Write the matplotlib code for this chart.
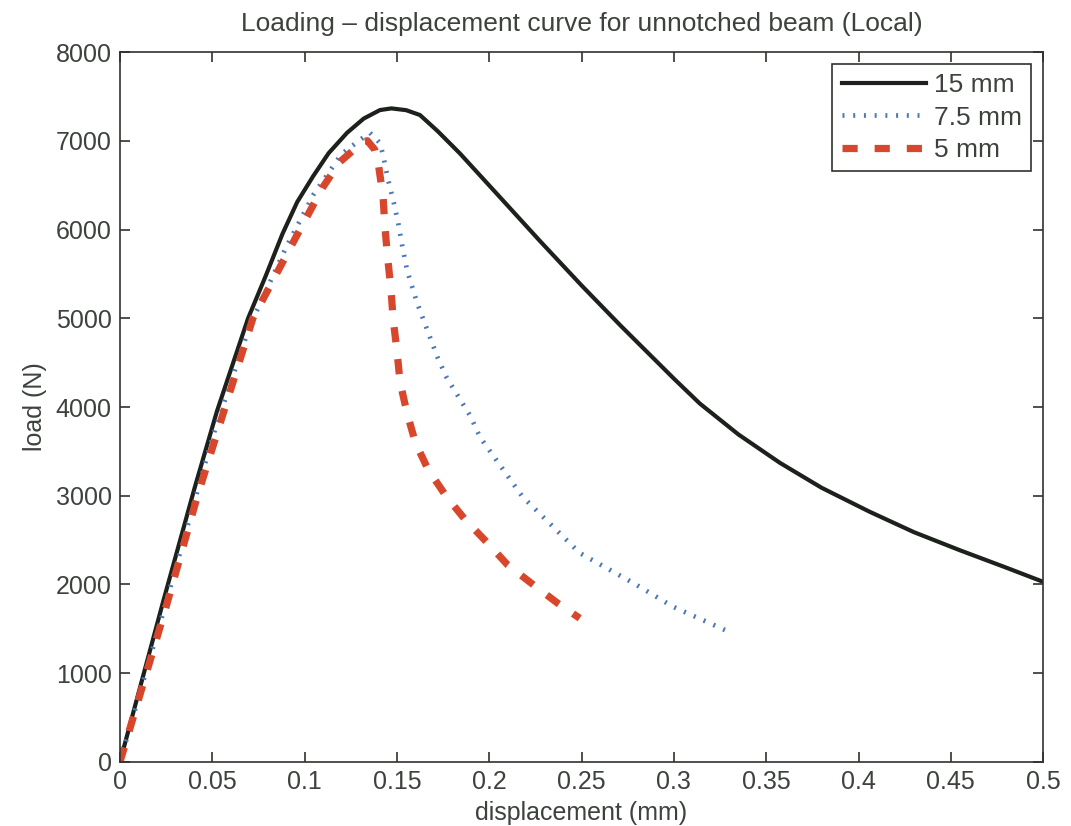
import matplotlib
matplotlib.use("Agg")
import matplotlib.pyplot as plt

# Дані
# 15 mm
x_15 = [0, 0.0233, 0.0406, 0.0525, 0.0694, 0.079, 0.088, 0.096, 0.1046, 0.113,
        0.123, 0.132, 0.1408, 0.147, 0.155, 0.1625, 0.172, 0.184, 0.195, 0.206,
        0.2275, 0.25, 0.271, 0.3, 0.314, 0.335, 0.3575, 0.38, 0.406, 0.43,
        0.455, 0.48, 0.5]
y_15 = [0, 1800, 3100, 3950, 5000, 5480, 5950, 6310, 6600, 6860,
        7090, 7250, 7346, 7365, 7345, 7290, 7110, 6860, 6610, 6360,
        5870, 5370, 4920, 4320, 4040, 3690, 3370, 3090, 2820, 2590,
        2385, 2190, 2030]

# 7.5 mm
x_75 = [0, 0.025, 0.05, 0.07, 0.09, 0.105, 0.12, 0.13, 0.1354, 0.1408, 0.1425,
        0.145, 0.148, 0.1506, 0.1528, 0.1555, 0.161, 0.172, 0.177, 0.19, 0.195,
        0.218, 0.249, 0.278, 0.2995, 0.33]
y_75 = [0, 1800, 3650, 4900, 5800, 6400, 6850, 7010, 7090, 6975, 6840,
        6580, 6330, 6085, 5825, 5540, 5170, 4560, 4330, 3890, 3660,
        2990, 2355, 2017, 1750, 1465]

# 5 mm
x_5 = [0, 0.025, 0.042, 0.072, 0.0975, 0.11, 0.119, 0.1317, 0.134, 0.138, 0.14,
       0.1425, 0.1435, 0.145, 0.1468, 0.148, 0.15, 0.1517, 0.1555, 0.16, 0.167,
       0.177, 0.187, 0.199, 0.21, 0.224, 0.237, 0.249]
y_5 = [0, 1750, 3000, 5000, 6000, 6480, 6760, 6990, 7000, 6900, 6730,
       6370, 6030, 5680, 5320, 4980, 4640, 4280, 3930, 3600, 3290,
       2985, 2730, 2470, 2220, 1995, 1790, 1620]

x_ticks = [0, 0.05, 0.1, 0.15, 0.2, 0.25, 0.3, 0.35, 0.4, 0.45, 0.5]
x_tick_labels = ["0", "0.05", "0.1", "0.15", "0.2", "0.25", "0.3", "0.35", "0.4", "0.45", "0.5"]
y_ticks = [0, 1000, 2000, 3000, 4000, 5000, 6000, 7000, 8000]

text_color = "#3c423c"
plt.rcParams["font.family"] = ["Liberation Sans", "DejaVu Sans"]

fig = plt.figure(figsize=(10.71, 8.26), dpi=100)
ax = fig.add_axes([0.112, 0.0775, 0.862, 0.8595])

ax.plot(x_15, y_15, color="#1c211c", lw=3.0, label="15 mm", solid_joinstyle="round")
ax.plot(x_75, y_75, color="#4a78b8", lw=3.4, linestyle=(0, (0.42, 1.85)),
        dash_capstyle="butt", label="7.5 mm")
ax.plot(x_5, y_5, color="#d8472b", lw=5.2, linestyle=(0, (2.1, 2.35)),
        dash_capstyle="butt", label="5 mm")

ax.set_xlim(0, 0.5)
ax.set_ylim(0, 8000)
ax.set_xticks(x_ticks)
ax.set_xticklabels(x_tick_labels)
ax.set_yticks(y_ticks)
ax.tick_params(direction="in", top=True, right=True, length=7, width=1.2,
               colors="#2e332e", labelcolor=text_color, labelsize=18, pad=6)
for s in ax.spines.values():
    s.set_color("#2e332e")
    s.set_linewidth(1.2)

ax.set_title("Loading – displacement curve for unnotched beam (Local)",
             fontsize=19, color=text_color, pad=15)
ax.set_xlabel("displacement (mm)", fontsize=18, color=text_color, labelpad=5)
ax.set_ylabel("load (N)", fontsize=18, color=text_color, labelpad=6)

leg = ax.legend(loc="upper right", fontsize=19, handlelength=3.2, handletextpad=0.3,
                borderpad=0.35, labelspacing=0.32, fancybox=False, framealpha=1,
                borderaxespad=0.45)
leg.get_frame().set_edgecolor("#2e332e")
leg.get_frame().set_linewidth(1.2)
for t in leg.get_texts():
    t.set_color(text_color)

fig.savefig("out.png", dpi=100)
